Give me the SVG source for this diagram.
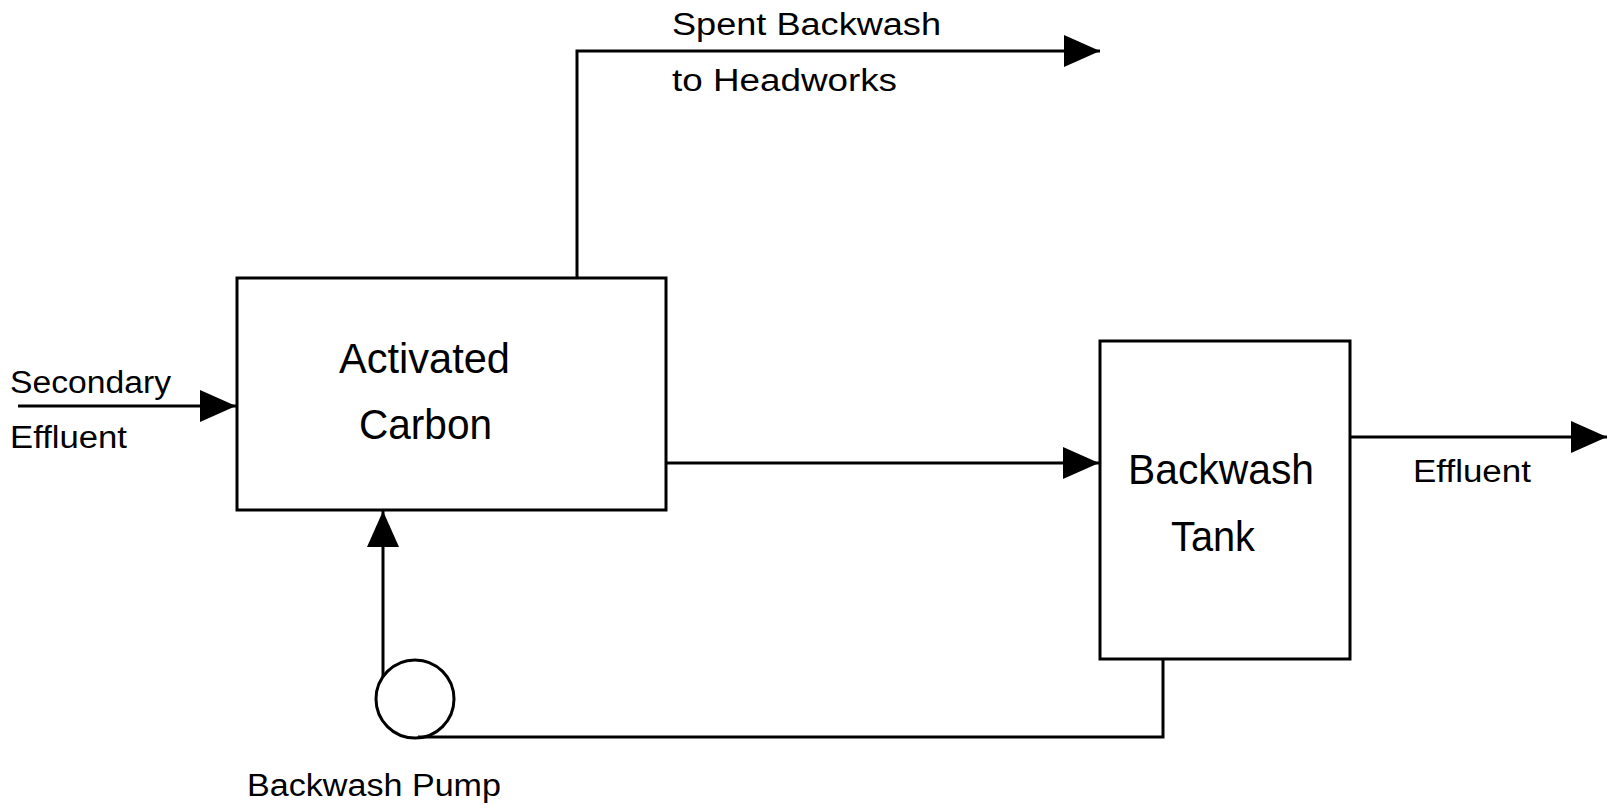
<svg xmlns="http://www.w3.org/2000/svg" width="1608" height="808" viewBox="0 0 1608 808">
<style>
.box{fill:#fff;stroke:#000;stroke-width:3}
.ln{fill:none;stroke:#000;stroke-width:3}
.t{font-family:"Liberation Sans","DejaVu Sans",sans-serif;fill:#000}
.s{font-size:31px}
.b{font-size:42px}
</style>
<defs>
<marker id="ah" markerUnits="userSpaceOnUse" markerWidth="36" markerHeight="32" refX="36" refY="16" orient="auto">
<path d="M0,0 L36,16 L0,32 Z" fill="#000"/>
</marker>
</defs>
<rect width="1608" height="808" fill="#fff"/>
<g id="connectors">
<path class="ln" d="M18,406 L236,406" marker-end="url(#ah)"/>
<path class="ln" d="M577,278 L577,51 L1100,51" marker-end="url(#ah)"/>
<path class="ln" d="M666,463 L1099,463" marker-end="url(#ah)"/>
<path class="ln" d="M1350,437 L1607,437" marker-end="url(#ah)"/>
<path class="ln" d="M383,677 L383,511" marker-end="url(#ah)"/>
<path class="ln" d="M418,737 L1163,737 L1163,659"/>
</g>
<g id="activated-carbon">
<rect class="box" x="237" y="278" width="429" height="232"/>
<text class="t b" x="339" y="373" textLength="171" lengthAdjust="spacingAndGlyphs">Activated</text>
<text class="t b" x="359" y="439" textLength="133" lengthAdjust="spacingAndGlyphs">Carbon</text>
</g>
<g id="backwash-tank">
<rect class="box" x="1100" y="341" width="250" height="318"/>
<text class="t b" x="1128" y="484" textLength="186" lengthAdjust="spacingAndGlyphs">Backwash</text>
<text class="t b" x="1171" y="551" textLength="84" lengthAdjust="spacingAndGlyphs">Tank</text>
</g>
<g id="backwash-pump">
<circle cx="415" cy="699" r="39" fill="none" stroke="#000" stroke-width="3"/>
<text class="t s" x="247" y="796" textLength="254" lengthAdjust="spacingAndGlyphs">Backwash Pump</text>
</g>
<g id="labels">
<text class="t s" x="10" y="393" textLength="161" lengthAdjust="spacingAndGlyphs">Secondary</text>
<text class="t s" x="10" y="448" textLength="117" lengthAdjust="spacingAndGlyphs">Effluent</text>
<text class="t s" x="672" y="35" textLength="269" lengthAdjust="spacingAndGlyphs">Spent Backwash</text>
<text class="t s" x="672" y="91" textLength="225" lengthAdjust="spacingAndGlyphs">to Headworks</text>
<text class="t s" x="1413" y="482" textLength="118" lengthAdjust="spacingAndGlyphs">Effluent</text>
</g>
</svg>
